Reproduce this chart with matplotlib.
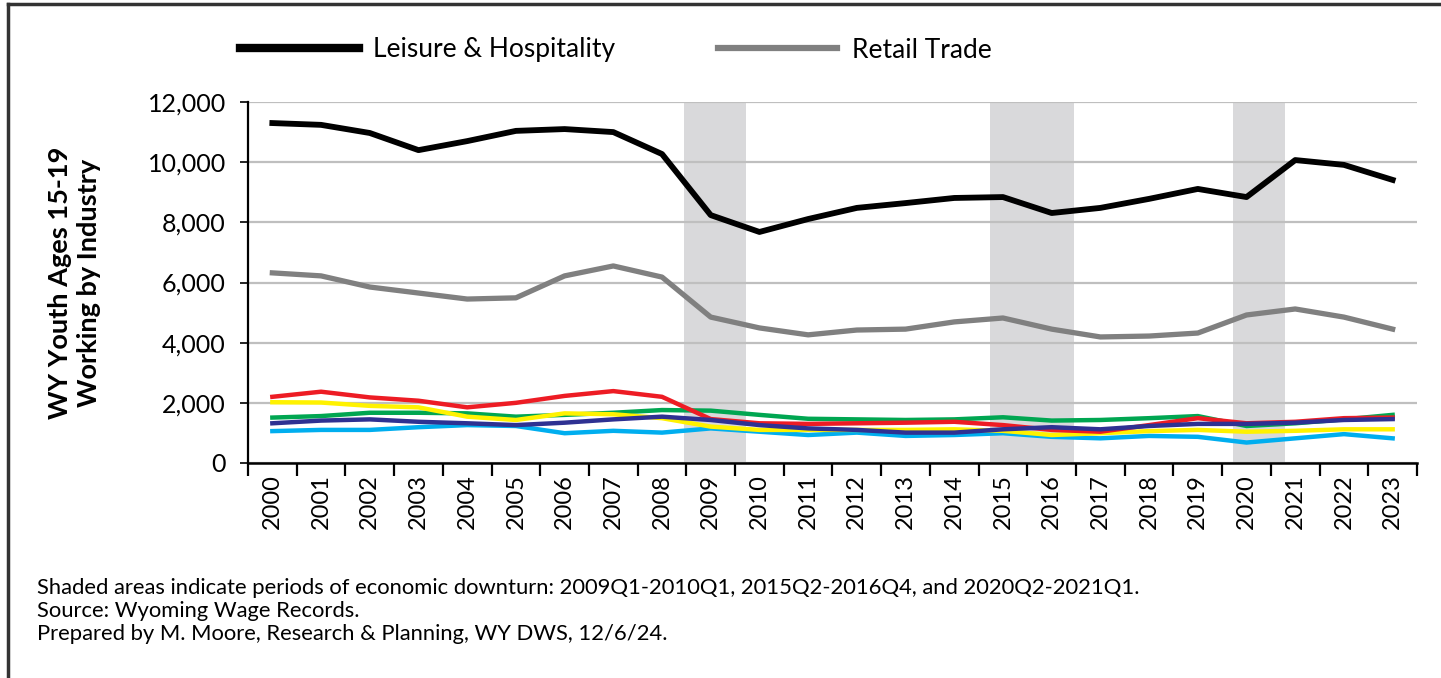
import matplotlib
matplotlib.use("Agg")
import matplotlib.pyplot as plt
from matplotlib.lines import Line2D
from matplotlib.ticker import FuncFormatter, FixedLocator

plt.rcParams['font.family'] = ['Lato', 'DejaVu Sans']

years = [str(y) for y in range(2000, 2024)]

leisure = [11300, 11240, 10970, 10400, 10700, 11040, 11100, 11000, 10270, 8240,
           7680, 8110, 8480, 8640, 8810, 8840, 8310, 8480, 8780, 9110,
           8840, 10070, 9910, 9410]
retail = [6320, 6220, 5850, 5650, 5450, 5490, 6220, 6550, 6180, 4850,
          4490, 4260, 4420, 4450, 4690, 4820, 4450, 4190, 4220, 4320,
          4920, 5120, 4850, 4450]
red_s = [2200, 2370, 2180, 2070, 1850, 2000, 2230, 2390, 2200, 1460,
         1320, 1300, 1320, 1340, 1370, 1260, 1100, 1040, 1260, 1490,
         1320, 1370, 1490, 1510]
green_s = [1510, 1560, 1670, 1670, 1650, 1540, 1600, 1670, 1760, 1740,
           1600, 1470, 1450, 1430, 1450, 1520, 1410, 1430, 1490, 1560,
           1230, 1320, 1450, 1600]
yellow_s = [2020, 2010, 1900, 1850, 1540, 1430, 1650, 1620, 1490, 1210,
            1100, 1100, 1100, 1100, 1120, 1070, 930, 990, 1060, 1100,
            1040, 1070, 1120, 1120]
navy_s = [1320, 1410, 1450, 1370, 1320, 1260, 1340, 1450, 1540, 1430,
          1260, 1150, 1100, 1010, 1010, 1120, 1190, 1120, 1230, 1300,
          1300, 1340, 1430, 1460]
cyan_s = [1060, 1100, 1100, 1190, 1260, 1230, 990, 1070, 1010, 1150,
          1040, 930, 1010, 900, 930, 990, 870, 820, 900, 870,
          680, 820, 960, 820]

# downturn periods in category-axis units
downturns = [(8.45, 9.72), (14.73, 16.45), (19.73, 20.78)]

footnote = ("Shaded areas indicate periods of economic downturn: 2009Q1-2010Q1, 2015Q2-2016Q4, and 2020Q2-2021Q1.\n"
            "Source: Wyoming Wage Records.\n"
            "Prepared by M. Moore, Research & Planning, WY DWS, 12/6/24.")

fig = plt.figure(figsize=(14.41, 6.78), dpi=100)
ax = fig.add_axes([248/1441, 1-463/678, (1417-248)/1441, (463-102)/678])

x = list(range(len(years)))
for a, b in downturns:
    ax.axvspan(a, b, color='#D9D9DB', lw=0, zorder=0)

ax.set_ylim(0, 12000)
ax.set_xlim(-0.5, len(years) - 0.5)
ax.yaxis.set_major_locator(FixedLocator(range(0, 12001, 2000)))
ax.yaxis.set_major_formatter(FuncFormatter(lambda v, p: f"{int(v):,}"))
ax.grid(axis='y', color='#BFBFBF', lw=1.6, zorder=1)
ax.set_axisbelow(True)

ax.plot(x, green_s, color='#00A651', lw=3.2, zorder=3, solid_joinstyle='round')
ax.plot(x, cyan_s, color='#00AEEF', lw=3.2, zorder=3, solid_joinstyle='round')
ax.plot(x, yellow_s, color='#FFF200', lw=3.2, zorder=3, solid_joinstyle='round')
ax.plot(x, red_s, color='#ED1C24', lw=3.2, zorder=3, solid_joinstyle='round')
ax.plot(x, navy_s, color='#2E3192', lw=3.2, zorder=3, solid_joinstyle='round')
ax.plot(x, retail, color='#808080', lw=3.8, zorder=4, solid_joinstyle='round')
ax.plot(x, leisure, color='black', lw=4.2, zorder=5, solid_joinstyle='round')

ax.set_xticks(x)
ax.set_xticklabels(years, rotation=90, fontsize=17)
ax.xaxis.set_minor_locator(FixedLocator([i - 0.5 for i in range(len(years) + 1)]))
ax.tick_params(axis='x', which='major', length=0, pad=8)
ax.tick_params(axis='x', which='minor', length=9, width=1.6, color='black')
ax.tick_params(axis='y', length=6, width=1.2, labelsize=18, pad=10)

for s in ['top', 'right']:
    ax.spines[s].set_visible(False)
ax.spines['left'].set_linewidth(1.6)
ax.spines['bottom'].set_linewidth(1.8)

ax.set_ylabel("WY Youth Ages 15-19\nWorking by Industry", fontsize=19.5,
              fontweight='bold', linespacing=1.25, va='center', ha='center')
ax.yaxis.set_label_coords((75 - 248) / (1417 - 248), 0.5)

handles = [Line2D([], [], color='black', lw=6),
           Line2D([], [], color='#808080', lw=4.5)]
fig.legend(handles, ["Leisure & Hospitality", "Retail Trade"], ncol=2,
           loc='center left', bbox_to_anchor=(240/1441, 1-50/678),
           frameon=False, fontsize=19, handlelength=4.5, handletextpad=0.55,
           columnspacing=3.9, borderpad=0, borderaxespad=0)

fig.text(37/1441, 1-578/678, footnote, fontsize=15.85, va='top', ha='left',
         linespacing=1.2)

# figure border (top and left)
fig.add_artist(Line2D([8/1441, 1], [1-4/678, 1-4/678], color='#333333', lw=2.5,
                      transform=fig.transFigure))
fig.add_artist(Line2D([8/1441, 8/1441], [0, 1-4/678], color='#333333', lw=2.5,
                      transform=fig.transFigure))

fig.savefig("out.png", dpi=100, facecolor='white')
